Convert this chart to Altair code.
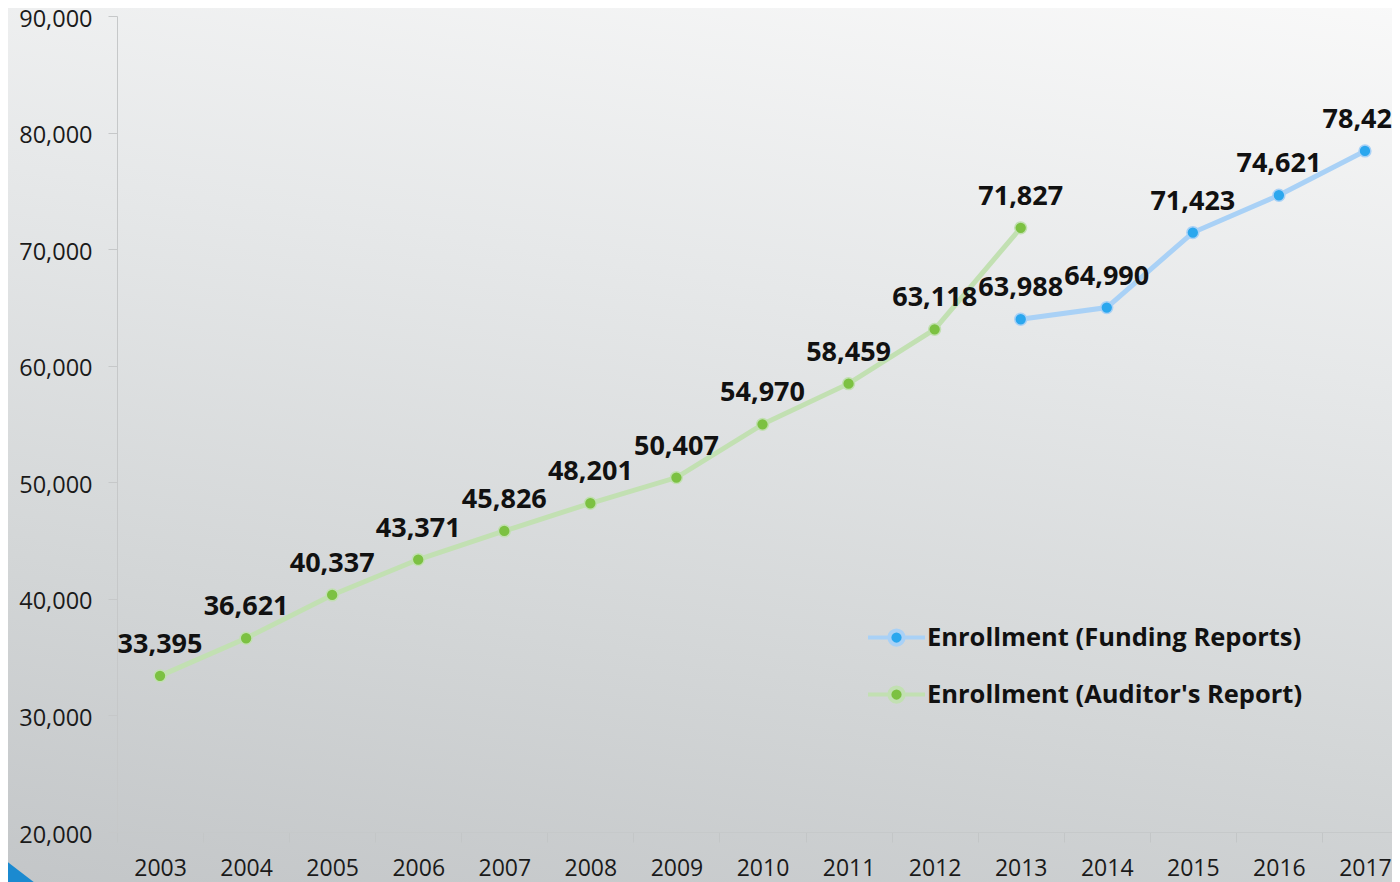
import altair as alt
import pandas as pd

FONT = "Open Sans"

years = [str(y) for y in range(2003, 2018)]
auditor_years = [str(y) for y in range(2003, 2014)]
auditor_values = [33395, 36621, 40337, 43371, 45826, 48201, 50407, 54970, 58459, 63118, 71827]
funding_years = [str(y) for y in range(2013, 2018)]
funding_values = [63988, 64990, 71423, 74621, 78424]
series_names = ["Enrollment (Funding Reports)", "Enrollment (Auditor's Report)"]
line_colors = ["#a9d1f6", "#c2e0b2"]
dot_colors = ["#2ba7ee", "#7cc142"]
y_ticks = [20000, 30000, 40000, 50000, 60000, 70000, 80000, 90000]

rows = []
for yr, v in zip(funding_years, funding_values):
    rows.append({"year": yr, "value": v, "series": series_names[0]})
for yr, v in zip(auditor_years, auditor_values):
    rows.append({"year": yr, "value": v, "series": series_names[1]})
df = pd.DataFrame(rows)

W, H = 1275, 816
BAND_RANGE = 1291

gradient = {
    "gradient": "linear",
    "x1": 0.933, "y1": 0.407, "x2": 0.819, "y2": 1.125,
    "stops": [
        {"offset": 0, "color": "#f9f9f9"},
        {"offset": 0.35, "color": "#e6e8e9"},
        {"offset": 0.7, "color": "#d3d6d7"},
        {"offset": 1, "color": "#c3c6c8"},
    ],
}

one_row = alt.Data(values=[{"k": 1}])

bg = alt.Chart(one_row).mark_rect(fill=gradient, strokeWidth=0).encode(
    x=alt.value(-117), x2=alt.value(1383), y=alt.value(-626), y2=alt.value(874)
)

corner = alt.Chart(one_row).mark_point(
    shape="M-1,-1.54L1,0L1,1L-1,1Z", filled=True, color="#1b8ad0", opacity=1, size=4900, strokeWidth=0
).encode(x=alt.value(-117), y=alt.value(867))

x_enc = alt.X(
    "year:O",
    sort=years,
    scale=alt.Scale(domain=years, range=[0, BAND_RANGE], paddingInner=0, paddingOuter=0),
    axis=alt.Axis(
        title=None, labelAngle=0, labelFont=FONT, labelFontSize=23, labelColor="#1a1a1a",
        tickBand="extent", tickSize=10, tickColor="#c3c6c7", domainColor="#c6c9ca",
        labelPadding=15, grid=False, zindex=1,
    ),
)
y_enc = alt.Y(
    "value:Q",
    scale=alt.Scale(domain=[20000, 90000], nice=False, zero=False),
    axis=alt.Axis(
        values=y_ticks, format=",.0f", title=None, labelFont=FONT, labelFontSize=23.5,
        labelColor="#1a1a1a", tickSize=9, tickColor="#c6c8c9", domainColor="#c6c8c9",
        labelPadding=16, grid=False, zindex=1, labelOffset=3,
    ),
)

sym_path = "M-1,0H-0.3M0.3,0H1M0.25,0A0.25,0.25,0,1,1,-0.25,0A0.25,0.25,0,1,1,0.25,0Z"
legend = alt.Legend(
    title=None, orient="none", legendX=749, legendY=591, symbolType=sym_path,
    symbolSize=3249, symbolStrokeWidth=4, labelFont=FONT, labelFontSize=25.5,
    labelFontWeight="bold", labelColor="#111111", labelOffset=0, rowPadding=11,
    padding=0, symbolOpacity=1, labelLimit=0,
)

stroke_scale = alt.Scale(domain=series_names, range=line_colors)
fill_scale = alt.Scale(domain=series_names, range=dot_colors)

lines = alt.Chart(df).mark_line(strokeWidth=5).encode(
    x=x_enc, y=y_enc,
    stroke=alt.Stroke("series:N", scale=stroke_scale, legend=legend),
    detail="series:N",
)
points = alt.Chart(df).mark_point(shape="circle", filled=True, size=140, strokeWidth=1.5, opacity=1).encode(
    x=x_enc, y=y_enc,
    fill=alt.Fill("series:N", scale=fill_scale, legend=legend),
    stroke=alt.Stroke("series:N", scale=stroke_scale, legend=legend),
)
labels = alt.Chart(df).mark_text(
    dy=-31, fontSize=27, fontWeight="bold", font=FONT, color="#111111", baseline="middle"
).encode(
    x=x_enc, y=y_enc, text=alt.Text("value:Q", format=","),
)

chart = alt.layer(bg, corner, lines, points, labels).properties(
    width=W, height=H,
    padding={"left": 109, "top": 8, "right": 0, "bottom": 50},
    autosize=alt.AutoSizeParams(type="none"),
).configure(background="#e0e2e3").configure_view(strokeWidth=0)

chart.save("out.html", embed_options={"renderer": "svg", "actions": False})
